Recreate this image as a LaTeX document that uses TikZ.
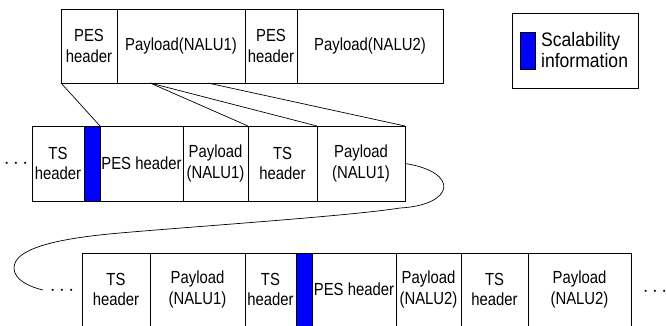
\documentclass[tikz,border=0pt]{standalone}
\usepackage{fontspec}
\usetikzlibrary{positioning,calc}
\newfontfamily\cellfont{Liberation Sans}[FakeStretch=0.85]
\newfontfamily\keyfont{Liberation Sans}[FakeStretch=0.9]
\definecolor{ScalBlue}{RGB}{0,0,255}
\tikzset{
  cell/.style={draw,line width=0.9pt,outer sep=0pt,inner sep=1pt,
    minimum height=74pt,align=center,
    font=\cellfont\fontsize{17.5}{20.5}\selectfont},
  opencell/.style={cell,draw=none,minimum height=73pt},
  scalbar/.style={cell,fill=ScalBlue,minimum width=16pt},
  dots/.style={inner sep=0pt,font=\fontsize{21}{21}\selectfont},
  link/.style={line width=0.7pt}
}

\begin{document}
\begin{tikzpicture}[x=1pt,y=-1pt]
  \useasboundingbox (0,0) rectangle (666,326);

  % PES packets
  \node[cell,minimum width=56pt] (tp1) at (89,46) {PES\\header};
  \node[cell,right=0pt of tp1,minimum width=128pt] (tp2) {Payload(NALU1)};
  \node[cell,right=0pt of tp2,minimum width=52pt] (tp3) {PES\\header};
  \node[cell,right=0pt of tp3,minimum width=146pt] (tp4) {Payload(NALU2)};

  % legend
  \node[cell,minimum width=126pt,minimum height=75pt] (legend) at (575,50.5) {};
  \node[scalbar,minimum width=15pt,minimum height=37pt] (key) at (527.5,50.5) {};
  \node[right=5pt of key,align=left,inner sep=1pt,
    font=\keyfont\fontsize{19.5}{21}\selectfont] (keytext) {Scalability\\information};

  % TS packets, first part
  \node[dots] (dotsA) at (16,164) {$\cdots$};
  \node[cell,minimum width=52pt,minimum height=75pt] (m1) at (58,163.5) {TS\\header};
  \node[scalbar,right=0pt of m1,minimum height=75pt] (mbar) {};
  \node[cell,right=0pt of mbar,minimum width=83pt,minimum height=75pt] (m2) {PES header};
  \node[cell,right=0pt of m2,minimum width=65pt,minimum height=75pt] (m3) {Payload\\(NALU1)};
  \node[cell,right=0pt of m3,minimum width=69pt,minimum height=75pt] (m4) {TS\\header};
  \node[cell,right=0pt of m4,minimum width=88pt,minimum height=75pt] (m5) {Payload\\(NALU1)};

  % TS packets, continued (open at the bottom)
  \node[dots] (dotsB) at (62,291) {$\cdots$};
  \node[opencell,minimum width=68pt] (b1) at (116,289.5) {TS\\header};
  \node[opencell,right=0pt of b1,minimum width=95pt] (b2) {Payload\\(NALU1)};
  \node[opencell,right=0pt of b2,minimum width=51pt] (b3) {TS\\header};
  \node[scalbar,draw=none,right=0pt of b3,minimum height=73pt] (bbar) {};
  \node[opencell,right=0pt of bbar,minimum width=84pt] (b4) {PES header};
  \node[opencell,right=0pt of b4,minimum width=65pt] (b5) {Payload\\(NALU2)};
  \node[opencell,right=0pt of b5,minimum width=67pt] (b6) {TS\\header};
  \node[opencell,right=0pt of b6,minimum width=103pt] (b7) {Payload\\(NALU2)};
  \node[dots] (dotsC) at (655,292) {$\cdots$};

  \draw[line width=0.9pt] (b1.south west) |- (b7.north east) -- (b7.south east);
  \foreach \c in {b1,b2,b3,bbar,b4,b5,b6}
    \draw[line width=0.9pt] (\c.north east) -- (\c.south east);

  % mapping lines
  \coordinate (fromA) at ($(tp2.south west)!0.258!(tp2.south east)$);
  \coordinate (fromB) at ($(tp2.south west)!0.71!(tp2.south east)$);
  \draw[link] (tp1.south west) -- (mbar.north east);
  \draw[link] (fromA) -- (m4.north west);
  \draw[link] (fromA) -- (m5.north west);
  \draw[link] (fromB) -- (m5.north east);

  % wrap to the next row
  \coordinate (wrapend) at (43,290);
  \draw[link] (m5.east) .. controls (460,172) and (455,205) .. (400,208)
    .. controls (350,216) and (200,226) .. (120,233)
    .. controls (50,239) and (14,250) .. (14,268)
    .. controls (14,280) and (30,287) .. (wrapend);
\end{tikzpicture}
\end{document}
